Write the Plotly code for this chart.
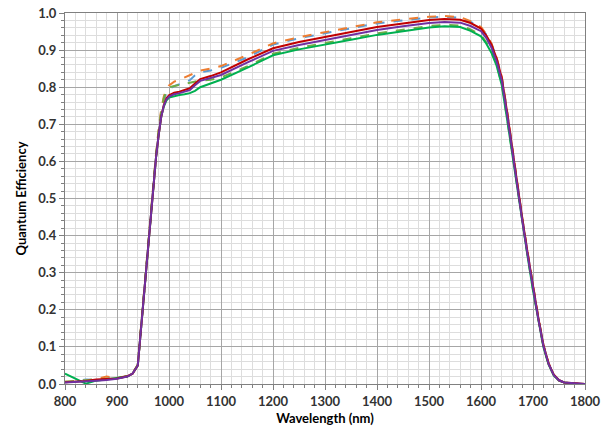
"""Quantum efficiency vs wavelength."""
import plotly.graph_objects as go

wavelength = [800, 820, 840, 860, 880, 900, 920, 930, 940,
              945, 950, 955, 960, 965, 970, 975, 980, 985, 990, 995,
              1000, 1010, 1020, 1030, 1040, 1050, 1060,
              1080, 1100, 1150, 1200, 1250, 1300, 1350, 1400, 1450, 1500,
              1530, 1560, 1580, 1600,
              1610, 1620, 1630, 1640, 1650, 1660, 1670, 1680, 1690, 1700,
              1710, 1720, 1730, 1740, 1750, 1760,
              1780, 1800]

qe_blue_dash = [0.005, 0.007, 0.012, 0.011, 0.014, 0.016, 0.021, 0.029, 0.051,
                0.132, 0.212, 0.295, 0.385, 0.465, 0.545, 0.615, 0.68, 0.73, 0.765, 0.785,
                0.795, 0.803, 0.808, 0.813, 0.819, 0.832, 0.84,
                0.845, 0.852, 0.88, 0.915, 0.932, 0.946, 0.959, 0.972, 0.98, 0.988,
                0.99, 0.987, 0.976, 0.961,
                0.942, 0.917, 0.879, 0.827, 0.737, 0.636, 0.536, 0.441, 0.351, 0.261,
                0.181, 0.105, 0.055, 0.025, 0.01, 0.004,
                0.001, 0.0]

qe_orange_dash = [0.006, 0.007, 0.01, 0.013, 0.02, 0.016, 0.022, 0.03, 0.052,
                  0.135, 0.215, 0.3, 0.39, 0.47, 0.55, 0.62, 0.685, 0.74, 0.775, 0.795,
                  0.805, 0.815, 0.82, 0.826, 0.832, 0.84, 0.845,
                  0.85, 0.857, 0.886, 0.918, 0.935, 0.949, 0.962, 0.975, 0.983, 0.99,
                  0.992, 0.989, 0.978, 0.962,
                  0.943, 0.918, 0.88, 0.828, 0.738, 0.637, 0.537, 0.442, 0.352, 0.262,
                  0.182, 0.106, 0.056, 0.025, 0.01, 0.004,
                  0.001, 0.0]

qe_green_dash = [0.006, 0.008, 0.009, 0.012, 0.014, 0.016, 0.021, 0.029, 0.051,
                 0.132, 0.212, 0.295, 0.385, 0.465, 0.545, 0.615, 0.68, 0.735, 0.77, 0.79,
                 0.8, 0.803, 0.805, 0.808, 0.812, 0.815, 0.818,
                 0.82, 0.826, 0.856, 0.89, 0.906, 0.92, 0.932, 0.945, 0.955, 0.965,
                 0.968, 0.966, 0.956, 0.941,
                 0.921, 0.896, 0.861, 0.808, 0.718, 0.623, 0.525, 0.432, 0.342, 0.254,
                 0.175, 0.101, 0.053, 0.023, 0.009, 0.004,
                 0.001, 0.0]

qe_green = [0.028, 0.014, 0.001, 0.009, 0.012, 0.015, 0.02, 0.028, 0.05,
            0.13, 0.21, 0.29, 0.38, 0.46, 0.54, 0.61, 0.67, 0.72, 0.748, 0.764,
            0.772, 0.776, 0.779, 0.781, 0.784, 0.79, 0.8,
            0.81, 0.82, 0.852, 0.886, 0.902, 0.916, 0.928, 0.941, 0.951, 0.961,
            0.964, 0.962, 0.952, 0.937,
            0.918, 0.893, 0.858, 0.805, 0.715, 0.62, 0.522, 0.43, 0.34, 0.252,
            0.174, 0.1, 0.052, 0.023, 0.009, 0.004,
            0.001, 0.0]

qe_red = [0.005, 0.006, 0.008, 0.012, 0.013, 0.015, 0.021, 0.028, 0.05,
          0.13, 0.21, 0.29, 0.38, 0.46, 0.54, 0.61, 0.67, 0.72, 0.752, 0.77,
          0.778, 0.785, 0.788, 0.792, 0.797, 0.81, 0.822,
          0.83, 0.84, 0.874, 0.905, 0.922, 0.936, 0.949, 0.962, 0.972, 0.981,
          0.984, 0.982, 0.973, 0.958,
          0.94, 0.915, 0.878, 0.825, 0.735, 0.635, 0.535, 0.44, 0.35, 0.26,
          0.18, 0.105, 0.055, 0.025, 0.01, 0.004,
          0.001, 0.0]

qe_purple = [0.004, 0.005, 0.007, 0.009, 0.011, 0.014, 0.02, 0.028, 0.05,
             0.13, 0.21, 0.29, 0.38, 0.46, 0.54, 0.61, 0.67, 0.72, 0.75, 0.767,
             0.775, 0.781, 0.784, 0.788, 0.792, 0.805, 0.817,
             0.825, 0.833, 0.866, 0.898, 0.914, 0.928, 0.941, 0.954, 0.964, 0.973,
             0.976, 0.974, 0.965, 0.951,
             0.933, 0.907, 0.87, 0.818, 0.728, 0.628, 0.528, 0.435, 0.345, 0.256,
             0.177, 0.103, 0.054, 0.024, 0.01, 0.004,
             0.001, 0.0]

# (values, colour, dash) drawn in this order, purple ends on top
series = [
    (qe_blue_dash, "#5B9BD5", "dash"),
    (qe_orange_dash, "#ED7D31", "dash"),
    (qe_green_dash, "#70AD47", "dash"),
    (qe_green, "#00B050", "solid"),
    (qe_red, "#C00000", "solid"),
    (qe_purple, "#7030A0", "solid"),
]

fig = go.Figure()
for values, color, dash in series:
    fig.add_trace(go.Scatter(
        x=wavelength, y=values, mode="lines",
        line=dict(color=color, width=2, dash=dash),
        showlegend=False,
    ))

axis_font = dict(family="Lato", size=13, color="#333333", weight="bold")
title_font = dict(family="Lato", size=13, color="#000000", weight="bold")

fig.update_xaxes(
    range=[800, 1800], dtick=100, tick0=800, automargin=False,
    showgrid=True, gridcolor="#A6A6A6", gridwidth=1,
    showline=True, linecolor="#808080", linewidth=1, mirror=True,
    ticks="outside", ticklen=5, tickcolor="#808080",
    minor=dict(dtick=20, showgrid=True, gridcolor="#DDDDDD", ticks="outside",
               ticklen=3, tickcolor="#808080"),
    tickfont=axis_font,
    title=dict(text="Wavelength (nm)", font=title_font, standoff=6),
    zeroline=False,
)
fig.update_yaxes(
    range=[0, 1.0], dtick=0.1, tick0=0, tickformat=".1f", automargin=False,
    showgrid=True, gridcolor="#A6A6A6", gridwidth=1,
    showline=True, linecolor="#808080", linewidth=1, mirror=True,
    ticks="outside", ticklen=5, tickcolor="#808080",
    minor=dict(dtick=0.02, showgrid=True, gridcolor="#DDDDDD", ticks="outside",
               ticklen=3, tickcolor="#808080"),
    tickfont=axis_font,
    title=dict(text="Quantum Efficiency", font=title_font, standoff=8),
    zeroline=False,
)
fig.update_layout(
    width=612, height=435,
    margin=dict(l=65, r=27, t=13, b=51),
    plot_bgcolor="white", paper_bgcolor="white",
)
# drop the default page margin so the figure fills the window exactly
fig.write_html(
    "out.html",
    config={"displayModeBar": False},
    post_script="document.body.style.margin = '0';",
)
